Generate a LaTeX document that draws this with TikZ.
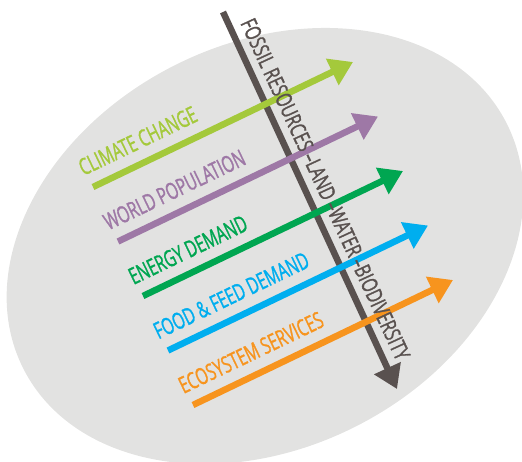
\documentclass[tikz,border=0pt]{standalone}
\usepackage{fontspec}
\setmainfont{Open Sans}
\newfontfamily\lblfont[FakeStretch=0.67,FakeBold=1.2]{Open Sans}
\newfontfamily\dfont[FakeStretch=0.72,FakeBold=1.2]{Open Sans}
\usetikzlibrary{arrows.meta,calc}
\definecolor{bggray}{HTML}{E2E2E1}
\definecolor{cLime}{HTML}{A4C93B}
\definecolor{cPurple}{HTML}{9E78A6}
\definecolor{cGreen}{HTML}{00A651}
\definecolor{cCyan}{HTML}{00AEEF}
\definecolor{cOrange}{HTML}{F7941E}
\definecolor{cDark}{HTML}{59514F}
\begin{document}
\begin{tikzpicture}[x=1pt,y=-1pt,
  flow/.style={line width=6.5pt, -{Triangle[length=23pt,width=28pt]}},
  lbl/.style={anchor=base west, rotate=25.68, inner sep=0pt, font=\lblfont\fontsize{23}{23}\selectfont},
  dlbl/.style={anchor=base west, rotate=-65.2, inner sep=0pt, font=\dfont\fontsize{22}{22}\selectfont, text=cDark}]
\useasboundingbox (0,0) rectangle (522,461);
\clip (0,0) rectangle (522,461);
\fill[bggray, rotate around={27:(265,246)}] (265,246) ellipse [x radius=271, y radius=202];
% main downward arrow
\coordinate (ds) at (223,12);
\coordinate (de) at (397,389);
\draw[flow, cDark] (ds) -- (de);
% coloured arrows
\coordinate (t1) at (93,187);   \coordinate (h1) at (353,62);
\coordinate (t2) at (118,241.5);\coordinate (h2) at (378,116.5);
\coordinate (t3) at (143,296);  \coordinate (h3) at (403,171);
\coordinate (t4) at (168,350.5);\coordinate (h4) at (428,225.5);
\coordinate (t5) at (193,405);  \coordinate (h5) at (453,280);
\draw[flow, cLime] (t1) -- (h1);
\draw[flow, cPurple] (t2) -- (h2);
\draw[flow, cGreen] (t3) -- (h3);
\draw[flow, cCyan] (t4) -- (h4);
\draw[flow, cOrange] (t5) -- (h5);
% labels
\node[lbl, text=cLime] (L1) at ($(t1)+(-9.5,-11)$) {CLIMATE CHANGE};
\node[lbl, text=cPurple] (L2) at ($(t2)+(-9.5,-11)$) {WORLD POPULATION};
\node[lbl, text=cGreen] (L3) at ($(t3)+(-9.5,-11)$) {ENERGY DEMAND};
\node[lbl, text=cCyan] (L4) at ($(t4)+(-9.5,-11)$) {FOOD \& FEED DEMAND};
\node[lbl, text=cOrange] (L5) at ($(t5)+(-9.5,-11)$) {ECOSYSTEM SERVICES};
\node[dlbl] (D) at (240,23) {FOSSIL RESOURCES –LAND –WATER –BIODIVERSITY};
\end{tikzpicture}
\end{document}
